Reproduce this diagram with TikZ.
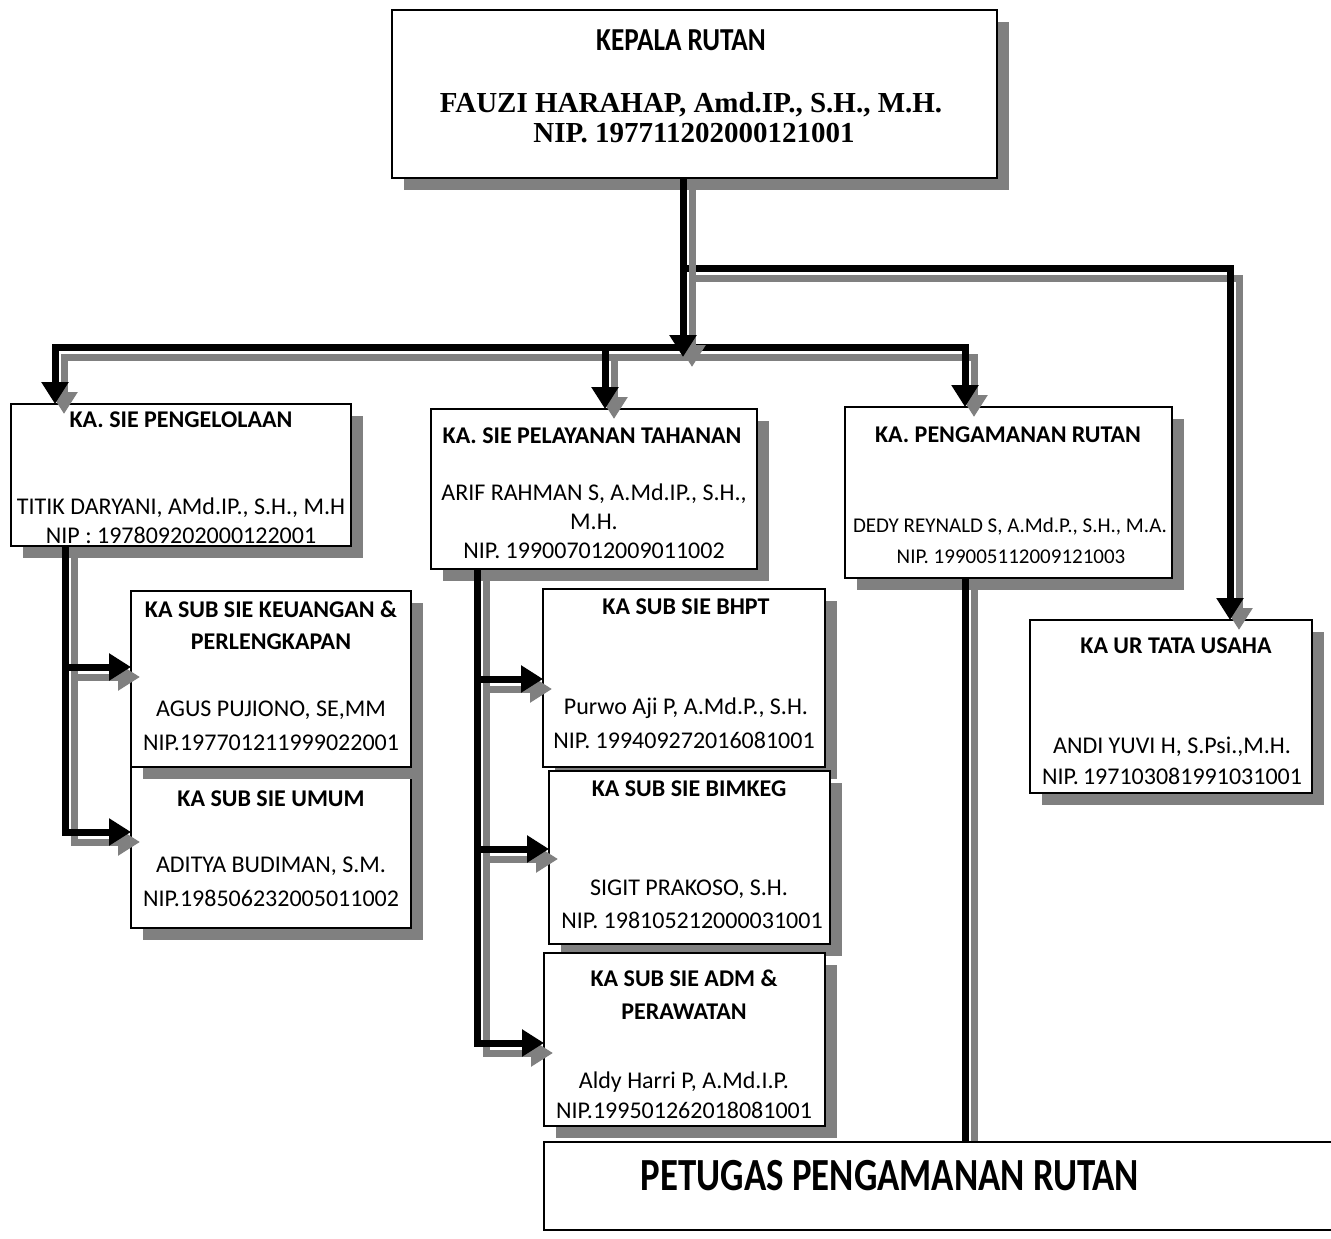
\documentclass[tikz,border=0pt]{standalone}
\usepackage{fontspec}
\setmainfont{Carlito}
\newfontfamily\tnr{Liberation Serif}
\usetikzlibrary{arrows.meta,shadows}
\definecolor{shd}{HTML}{808080}
\newcommand\cn[2][]{%
  \draw[conn,draw=shd,transform canvas={shift={(9pt,-10pt)}},#1] #2;
  \draw[conn,#1] #2;}
\begin{document}
\begin{tikzpicture}[x=1pt,y=-1pt,
  box/.style={draw=black,line width=1.8pt,fill=white,anchor=north west,inner sep=0pt,outer sep=0pt},
  shbox/.style={box,general shadow={fill=shd,shadow xshift=12pt,shadow yshift=-12pt}},
  conn/.style={line width=7pt,draw=black,line join=miter},
  arr/.style={-{Triangle[width=26pt,length=22pt]}},
  t/.style={anchor=base,inner sep=0pt,font=\fontsize{24}{28}\selectfont},
  ts/.style={anchor=base,inner sep=0pt,font=\fontsize{21}{25}\selectfont},
  tb/.style={anchor=base,inner sep=0pt,font=\fontsize{24}{28}\selectfont\bfseries}]
\useasboundingbox (0,0) rectangle (1331,1239);
\fill[white] (0,0) rectangle (1331,1239);
% boxes
\node[shbox,minimum width=605pt,minimum height=168pt] (top) at (392,10) {};
\node[shbox,minimum width=340pt,minimum height=142pt] (b1) at (11,404) {};
\node[shbox,minimum width=326pt,minimum height=160pt] (b2) at (431,409) {};
\node[shbox,minimum width=327pt,minimum height=171pt] (b3) at (845,407) {};
\node[shbox,minimum width=282pt,minimum height=173pt] (b4) at (1030,620) {};
\node[shbox,minimum width=280pt,minimum height=161pt] (umum) at (131,767) {};
\node[shbox,minimum width=280pt,minimum height=176pt] (keu) at (131,591) {};
\node[shbox,minimum width=282pt,minimum height=178pt] (bhpt) at (543,589) {};
\node[shbox,minimum width=281pt,minimum height=173pt] (bim) at (549,771) {};
\node[shbox,minimum width=281pt,minimum height=173pt] (adm) at (544,953) {};
% joint coordinates
\coordinate (tx) at (683,0);
\coordinate (jb) at (683,347);
\coordinate (jr) at (683,268);
\coordinate (xl) at (55,0);
\coordinate (xm) at (605,0);
\coordinate (xr) at (965,0);
\coordinate (xu) at (1230,0);
\coordinate (xs1) at (65,0);
\coordinate (xs2) at (477,0);
% connectors
\cn[arr]{(jb) -- (jb -| xl) -- (b1.north -| xl)}
\cn[arr]{(jb) -- (jb -| xr) -- (b3.north -| xr)}
\cn[arr]{(jb -| xm) -- (b2.north -| xm)}
\cn[arr]{(jr) -- (jr -| xu) -- (b4.north -| xu)}
\cn[arr]{(top.south -| tx) -- ([yshift=-10pt]jb)}
\coordinate (l1) at (65,667);
\coordinate (l2) at (65,832);
\cn[arr]{(b1.south -| xs1) -- (l2) -- (l2 -| umum.west)}
\cn[arr]{(l1) -- (l1 -| keu.west)}
\coordinate (m1) at (477,679);
\coordinate (m2) at (477,849);
\coordinate (m3) at (477,1043);
\cn[arr]{(b2.south -| xs2) -- (m3) -- (m3 -| adm.west)}
\cn[arr]{(m1) -- (m1 -| bhpt.west)}
\cn[arr]{(m2) -- (m2 -| bim.west)}
\coordinate (pt) at (544,1142);
\cn{(b3.south -| xr) -- (pt -| xr)}
\node[box,minimum width=800pt,minimum height=88pt] (pet) at (pt) {};
% texts
\node[anchor=base,inner sep=0pt] (t0) at (681,51) {\scalebox{0.85}[1]{\fontsize{32}{36}\selectfont\bfseries KEPALA RUTAN}};
\node[anchor=base,inner sep=0pt,font=\fontsize{29}{32}\selectfont\tnr\bfseries] (t1) at (691,113) {FAUZI HARAHAP, Amd.IP., S.H., M.H.};
\node[anchor=base,inner sep=0pt,font=\fontsize{29}{32}\selectfont\tnr\bfseries] (t2) at (694,142) {NIP. 197711202000121001};
%
\node[tb] (b1a) at (181,427) {KA. SIE PENGELOLAAN};
\node[t] (b1b) at (181,514) {TITIK DARYANI, AMd.IP., S.H., M.H};
\node[t] (b1c) at (181,543) {NIP : 197809202000122001};
%
\node[tb] (b2a) at (592,443) {KA. SIE PELAYANAN TAHANAN};
\node[t] (b2b) at (594,500) {ARIF RAHMAN S, A.Md.IP., S.H.,};
\node[t] (b2c) at (594,529) {M.H.};
\node[t] (b2d) at (594,558) {NIP. 199007012009011002};
%
\node[tb] (b3a) at (1008,442) {KA. PENGAMANAN RUTAN};
\node[ts] (b3b) at (1010,532) {DEDY REYNALD S, A.Md.P., S.H., M.A.};
\node[ts] (b3c) at (1011,563) {NIP. 199005112009121003};
%
\node[tb] (b4a) at (1176,653) {KA UR TATA USAHA};
\node[t] (b4b) at (1172,753) {ANDI YUVI H, S.Psi.,M.H.};
\node[t] (b4c) at (1172,784) {NIP.\,197103081991031001};
%
\node[tb] (k1) at (271,617) {KA SUB SIE KEUANGAN \&};
\node[tb] (k2) at (271,649) {PERLENGKAPAN};
\node[t] (k3) at (271,716) {AGUS PUJIONO, SE,MM};
\node[t] (k4) at (271,750) {NIP.197701211999022001};
%
\node[tb] (u1) at (271,806) {KA SUB SIE UMUM};
\node[t] (u2) at (271,872) {ADITYA BUDIMAN, S.M.};
\node[t] (u3) at (271,906) {NIP.198506232005011002};
%
\node[tb] (h1) at (686,614) {KA SUB SIE BHPT};
\node[t] (h2) at (686,714) {Purwo Aji P, A.Md.P., S.H.};
\node[t] (h3) at (684,748) {NIP. 199409272016081001};
%
\node[tb] (g1) at (689,796) {KA SUB SIE BIMKEG};
\node[t] (g2) at (689,895) {SIGIT PRAKOSO, S.H.};
\node[t] (g3) at (692,928) {NIP. 198105212000031001};
%
\node[tb] (a1) at (684,986) {KA SUB SIE ADM \&};
\node[tb] (a2) at (684,1019) {PERAWATAN};
\node[t] (a3) at (684,1088) {Aldy Harri P, A.Md.I.P.};
\node[t] (a4) at (684,1118) {NIP.199501262018081001};
%
\node[anchor=base,inner sep=0pt] (p1) at (890,1190) {\scalebox{0.8}[1]{\fontsize{46}{50}\selectfont\bfseries PETUGAS PENGAMANAN RUTAN}};
\end{tikzpicture}
\end{document}
